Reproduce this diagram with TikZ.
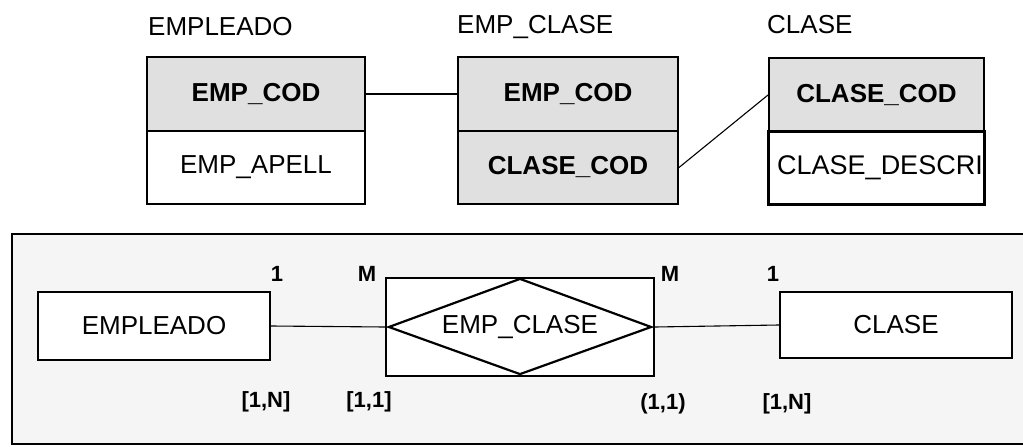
\documentclass[tikz,border=0pt]{standalone}
\usepackage{fontspec}
\setmainfont{Liberation Sans}

\tikzset{
  txt/.style={font=\fontsize{26}{30}\selectfont},
  keytxt/.style={font=\fontsize{26}{30}\selectfont\bfseries},
  card/.style={font=\fontsize{22}{26}\selectfont\bfseries, inner sep=0pt},
  keycell/.style={draw, line width=2pt, fill=gray!24, inner sep=0pt, keytxt},
  attcell/.style={draw, line width=2pt, fill=white, inner sep=0pt, txt},
  entbox/.style={draw, line width=2.2pt, fill=white, inner sep=0pt, txt},
  link/.style={line width=1.1pt},
  header/.style={anchor=west, inner sep=0pt, txt}
}

\begin{document}
\begin{tikzpicture}[x=1pt, y=-1pt]
  \useasboundingbox (0,0) rectangle (1023,447);
  \fill[white] (0,0) rectangle (1023,447);

  % ---------- relational schema ----------
  \node[header] (hEmp)   at (148,27) {EMPLEADO};
  \node[header] (hEmpCl) at (457,27) {EMP\_CLASE};
  \node[header] (hCl)    at (767,25) {CLASE};

  % EMPLEADO table
  \node[keycell, minimum width=218pt, minimum height=74pt] (t1k) at (256,94) {EMP\_COD};
  \node[attcell, minimum width=218pt, minimum height=73pt] (t1a) at (256,167.5) {EMP\_APELL};

  % EMP_CLASE table
  \node[keycell, minimum width=220pt, minimum height=74pt] (t2k) at (568,94) {EMP\_COD};
  \node[keycell, minimum width=220pt, minimum height=73pt] (t2a) at (568,167.5) {CLASE\_COD};

  % CLASE table (description column is cut off by the cell border)
  \node[keycell, minimum width=215pt, minimum height=74pt] (t3k) at (876.5,95) {CLASE\_COD};
  \node[attcell, minimum width=215pt, minimum height=72pt] (t3a) at (876.5,168) {};
  \begin{scope}
    \clip (769,132) rectangle (981,204);
    \node[header, font=\fontsize{27}{30}\selectfont] (t3txt) at (777,168) {CLASE\_DESCRI};
  \end{scope}
  \draw[line width=2pt] (t3a.north west) rectangle (t3a.south east);

  % foreign keys
  \draw[link] (t1k.east) -- (t2k.west);
  \draw[link] (t2a.east) -- (t3k.west);

  % ---------- entity-relationship model ----------
  \fill[gray!8] (12,234) rectangle (1023,444);
  \draw[line width=2.2pt] (1023,234) -- (12,234) -- (12,444) -- (1023,444);

  \node[entbox, minimum width=232pt, minimum height=68pt] (eEmp) at (154,326) {EMPLEADO};
  \node[entbox, minimum width=232pt, minimum height=66pt] (eCl)  at (896,325) {CLASE};

  % relationship: diamond inscribed in a box
  \node[entbox, minimum width=268pt, minimum height=98pt] (rel) at (520,327) {EMP\_CLASE};
  \draw[line width=2.2pt, line join=miter]
    ([xshift=4pt]rel.west) -- ([yshift=-2pt]rel.north) --
    ([xshift=-4pt]rel.east) -- ([yshift=3pt]rel.south) -- cycle;

  \draw[link] (eEmp.east) -- (rel.west);
  \draw[link] (rel.east) -- (eCl.west);

  % cardinalities
  \node[card] (c1)  at (277,274) {1};
  \node[card] (c2)  at (367,274) {M};
  \node[card] (c3)  at (670,274) {M};
  \node[card] (c4)  at (773,274) {1};

  \node[card] (p1) at (266,402) {[1,N]};
  \node[card] (p2) at (369,402) {[1,1]};
  \node[card] (p3) at (663,404) {(1,1)};
  \node[card] (p4) at (787,404) {[1,N]};
\end{tikzpicture}
\end{document}
